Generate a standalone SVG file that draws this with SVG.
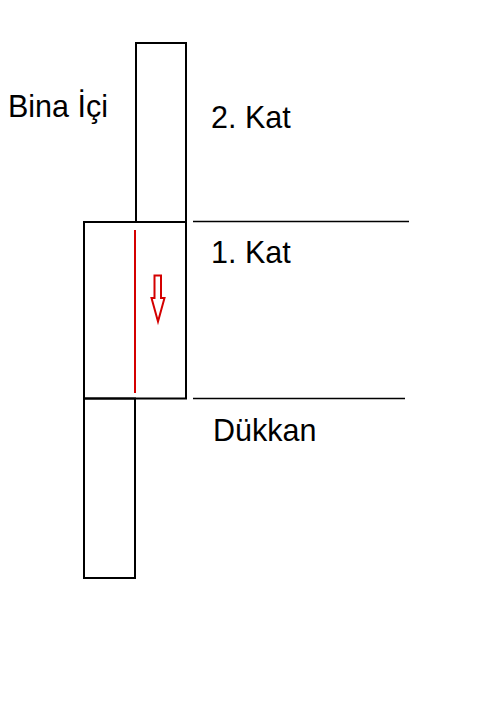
<svg xmlns="http://www.w3.org/2000/svg" width="480" height="701" viewBox="0 0 480 701">
  <style>
    .box { fill: none; stroke: #000; stroke-width: 2; }
    .floor { stroke: #000; stroke-width: 1.6; }
    .lbl { font-family: "Liberation Sans", Arial, sans-serif; font-size: 30.5px; fill: #000; }
    .red { stroke: #d40000; stroke-width: 2; fill: none; }
  </style>
  <rect width="480" height="701" fill="#fff"/>
  <g id="shaft-upper">
    <rect class="box" x="136" y="43" width="50" height="179"/>
  </g>
  <g id="cabin">
    <rect class="box" x="84" y="222" width="102" height="176.5"/>
  </g>
  <g id="shaft-lower">
    <rect class="box" x="84" y="398.5" width="51" height="179.5"/>
  </g>
  <g id="connectors">
    <line class="floor" x1="193" y1="221.5" x2="409" y2="221.5"/>
    <line class="floor" x1="193" y1="398.5" x2="405" y2="398.5"/>
    <line class="red" x1="135" y1="230" x2="135" y2="393"/>
    <path class="red" stroke-width="1.6" d="M154.5,275.5 H161 V298 H164.5 L158,321.5 L151.5,298 H154.5 Z"/>
  </g>
  <g id="labels">
    <text class="lbl" x="8" y="116.5">Bina İçi</text>
    <text class="lbl" x="211" y="128">2. Kat</text>
    <text class="lbl" x="211" y="263">1. Kat</text>
    <text class="lbl" x="213" y="441">Dükkan</text>
  </g>
</svg>
